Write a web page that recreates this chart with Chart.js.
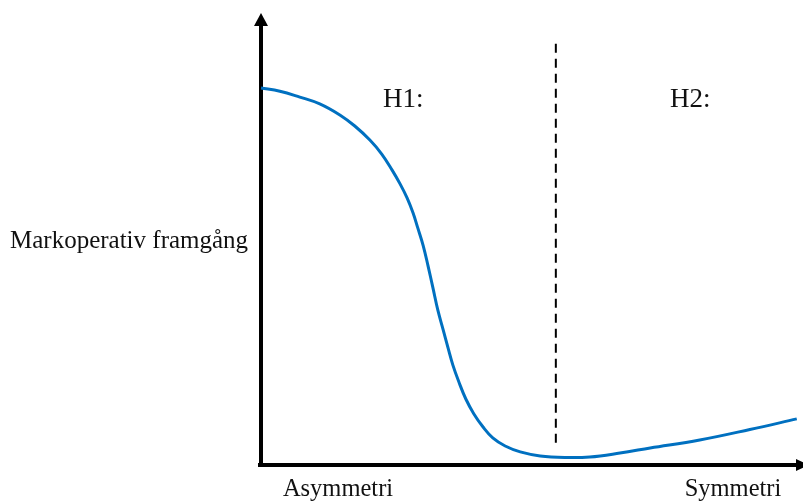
<!DOCTYPE html>
<html>
<head>
<meta charset="utf-8">
<script src="https://cdn.jsdelivr.net/npm/chart.js@4/dist/chart.umd.min.js"></script>
<style>
html,body{margin:0;padding:0;background:#fff;}
#wrap{width:803px;height:501px;}
</style>
</head>
<body>
<div id="wrap"><canvas id="c" width="803" height="501"></canvas></div>
<script>
// Curve values (x: asymmetri -> symmetri, 0..100; y: markoperativ framgång, 0..100)
const curveX = [0, 3.5, 7.2, 10.9, 14.7, 17.4, 20.2, 22.4, 24.3, 25.8, 27.1, 28.2, 29.1, 30.1, 31.0, 31.9, 32.8, 33.8, 34.7, 35.6, 36.7, 38.0, 39.5, 41.2, 43.0, 45.3, 48.1, 51.8, 56.4, 61.0, 66.6, 72.2, 81.4, 90.7, 99.4];
const curveY = [83.4, 82.7, 81.4, 79.9, 77.4, 75.0, 71.9, 68.8, 65.3, 62.2, 59.1, 55.8, 52.4, 48.5, 44.0, 39.2, 34.3, 29.9, 25.9, 22.1, 18.4, 14.6, 11.3, 8.4, 6.0, 4.2, 2.9, 2.0, 1.66, 1.77, 2.65, 3.76, 5.53, 7.85, 10.2];
// Divider between H1 and H2 regions
const dividerX = [54.7, 54.7];
const dividerY = [4.9, 94.5];
// Text labels
const yAxisLabel = "Markoperativ framgång";
const xAxisLeftLabel = "Asymmetri";
const xAxisRightLabel = "Symmetri";
const regionLabels = ["H1:", "H2:"];

const curveData = curveX.map((x, i) => ({x: x, y: curveY[i]}));
const dividerData = dividerX.map((x, i) => ({x: x, y: dividerY[i]}));

const axesPlugin = {
  id: 'axesPlugin',
  beforeDatasetsDraw(chart) {
    const ctx = chart.ctx;
    const xs = chart.scales.x, ys = chart.scales.y;
    const x0 = xs.getPixelForValue(0);
    const y0 = ys.getPixelForValue(0);
    const top = chart.chartArea.top;
    ctx.save();
    ctx.fillStyle = '#000';
    ctx.strokeStyle = '#000';
    ctx.lineWidth = 4;
    ctx.lineCap = 'butt';
    // y axis
    ctx.beginPath();
    ctx.moveTo(x0, y0 + 2);
    ctx.lineTo(x0, top + 12);
    ctx.stroke();
    ctx.beginPath();
    ctx.moveTo(x0, top);
    ctx.lineTo(x0 - 7, top + 13);
    ctx.lineTo(x0 + 7, top + 13);
    ctx.closePath();
    ctx.fill();
    // x axis
    ctx.beginPath();
    ctx.moveTo(x0 - 3, y0);
    ctx.lineTo(798, y0);
    ctx.stroke();
    ctx.beginPath();
    ctx.moveTo(809, y0);
    ctx.lineTo(796, y0 - 6);
    ctx.lineTo(796, y0 + 6);
    ctx.closePath();
    ctx.fill();
    ctx.restore();
  },
  afterDraw(chart) {
    const ctx = chart.ctx;
    ctx.save();
    ctx.fillStyle = '#111';
    ctx.textBaseline = 'alphabetic';
    ctx.font = '25px "Liberation Serif", "Times New Roman", serif';
    ctx.textAlign = 'left';
    ctx.fillText(yAxisLabel, 10, 248);
    ctx.font = '24.5px "Liberation Serif", "Times New Roman", serif';
    ctx.textAlign = 'center';
    ctx.fillText(xAxisLeftLabel, 338, 496);
    ctx.fillText(xAxisRightLabel, 733, 496);
    ctx.font = '27px "Liberation Serif", "Times New Roman", serif';
    ctx.textAlign = 'left';
    ctx.fillText(regionLabels[0], 383, 107);
    ctx.fillText(regionLabels[1], 670, 107);
    ctx.restore();
  }
};

new Chart(document.getElementById('c'), {
  type: 'line',
  data: {
    datasets: [
      {
        data: curveData,
        borderColor: '#0070C0',
        borderWidth: 3,
        pointRadius: 0,
        tension: 0.4,
        fill: false,
        clip: false
      },
      {
        data: dividerData,
        borderColor: '#000',
        borderWidth: 2,
        borderDash: [9, 6],
        pointRadius: 0,
        fill: false,
        clip: false
      }
    ]
  },
  plugins: [axesPlugin],
  options: {
    responsive: false,
    devicePixelRatio: 1,
    animation: false,
    layout: { padding: { left: 261, right: 3, top: 13, bottom: 36 } },
    plugins: { legend: { display: false }, tooltip: { enabled: false } },
    scales: {
      x: { type: 'linear', min: 0, max: 100, display: false },
      y: { type: 'linear', min: 0, max: 100, display: false }
    }
  }
});
</script>
</body>
</html>
